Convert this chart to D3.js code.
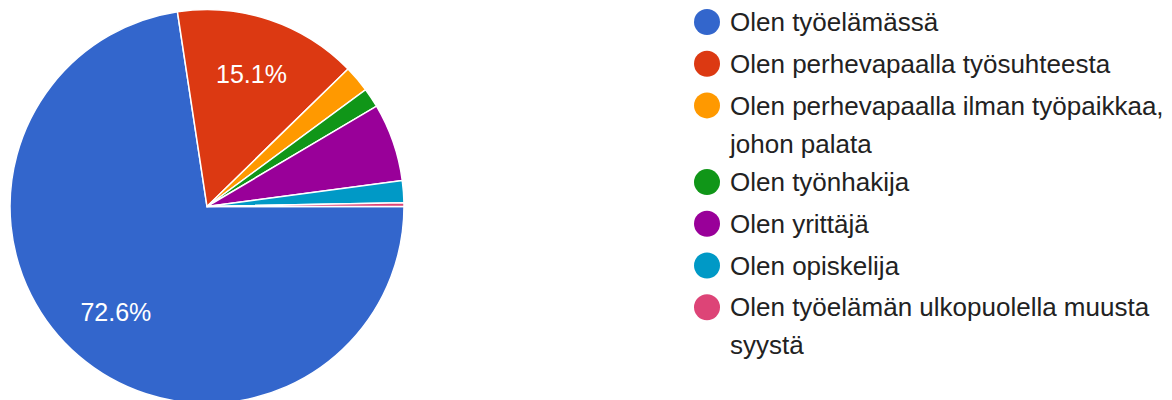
<!DOCTYPE html>
<html>
<head>
<meta charset="utf-8">
<script src="https://cdn.jsdelivr.net/npm/d3@7"></script>
<style>
  body { margin: 0; background: #fff; }
  svg text { font-family: "Liberation Sans", Arial, sans-serif; }
</style>
</head>
<body>
<svg id="chart" width="1172" height="400"></svg>
<script>
const categories = [
  "Olen työelämässä",
  "Olen perhevapaalla työsuhteesta",
  "Olen perhevapaalla ilman työpaikkaa, johon palata",
  "Olen työnhakija",
  "Olen yrittäjä",
  "Olen opiskelija",
  "Olen työelämän ulkopuolella muusta syystä"
];
const values = [72.6, 15.1, 2.2, 1.6, 6.4, 1.8, 0.3];
const colors = ["#3366cc", "#dc3912", "#ff9900", "#109618", "#990099", "#0099c6", "#dd4477"];

const data = categories.map((c, i) => ({ name: c, value: values[i], color: colors[i] }));

const svg = d3.select("#chart");
const cx = 207, cy = 206.5, radius = 197;

const pie = d3.pie()
  .value(d => d.value)
  .sort(null)
  .startAngle(Math.PI / 2)
  .endAngle(Math.PI / 2 + 2 * Math.PI);

const arc = d3.arc().innerRadius(0).outerRadius(radius);
const labelArc = d3.arc().innerRadius(radius * 0.71).outerRadius(radius * 0.71);

const g = svg.append("g").attr("transform", `translate(${cx},${cy})`);

const arcs = pie(data);

g.selectAll("path")
  .data(arcs)
  .join("path")
  .attr("d", arc)
  .attr("fill", d => d.data.color)
  .attr("stroke", "#fff")
  .attr("stroke-width", 1.5);

g.selectAll("text")
  .data(arcs.filter(d => d.data.value >= 10))
  .join("text")
  .attr("transform", d => `translate(${labelArc.centroid(d)})`)
  .attr("text-anchor", "middle")
  .attr("dy", "0.35em")
  .attr("fill", "#fff")
  .attr("font-size", 25)
  .text(d => d.data.value.toFixed(1) + "%");

// legend
const legend = svg.append("g");
const legendX = 707, textX = 730, maxWidth = 445;
let y = 22;

data.forEach(d => {
  legend.append("circle")
    .attr("cx", legendX)
    .attr("cy", y)
    .attr("r", 13)
    .attr("fill", d.color);

  const text = legend.append("text")
    .attr("x", textX)
    .attr("y", y)
    .attr("dy", "0.35em")
    .attr("font-size", 26)
    .attr("fill", "#222");

  // wrap long labels
  const words = d.name.split(" ");
  let line = [];
  let lines = 0;
  let tspan = text.append("tspan").attr("x", textX);
  words.forEach(w => {
    line.push(w);
    tspan.text(line.join(" "));
    if (tspan.node().getComputedTextLength() > maxWidth && line.length > 1) {
      line.pop();
      tspan.text(line.join(" "));
      line = [w];
      lines++;
      tspan = text.append("tspan").attr("x", textX).attr("dy", 38).text(w);
    }
  });

  y += 41.7 + lines * 35;
});
</script>
</body>
</html>
